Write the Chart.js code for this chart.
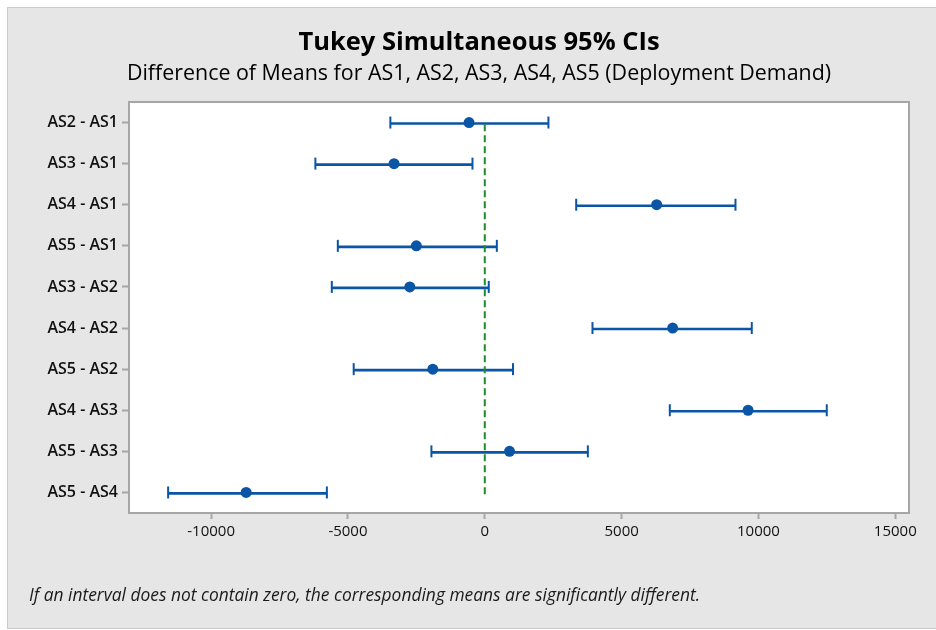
<!DOCTYPE html>
<html>
<head>
<meta charset="utf-8">
<title>Tukey Simultaneous 95% CIs</title>
<script src="https://cdn.jsdelivr.net/npm/chart.js@4.4.1/dist/chart.umd.min.js"></script>
<style>
  html, body { margin: 0; padding: 0; background: #fff; }
  #wrap { width: 936px; height: 630px; }
</style>
</head>
<body>
<div id="wrap"><canvas id="tukeyChart" width="936" height="630"></canvas></div>
<script>
// Pairwise comparisons
const comparisons = [
  "AS2 - AS1", "AS3 - AS1", "AS4 - AS1", "AS5 - AS1", "AS3 - AS2",
  "AS4 - AS2", "AS5 - AS2", "AS4 - AS3", "AS5 - AS3", "AS5 - AS4",
];
const meanDiffs = [-575, -3315, 6280, -2500, -2740, 6865, -1900, 9620, 905, -8720];
const lowerCI = [-3450, -6190, 3340, -5370, -5590, 3935, -4790, 6760, -1950, -11570];
const upperCI = [2325, -450, 9160, 440, 145, 9755, 1030, 12495, 3765, -5770];
const xTicks = [-10000, -5000, 0, 5000, 10000, 15000];

const titleText = "Tukey Simultaneous 95% CIs";
const subtitleText = "Difference of Means for AS1, AS2, AS3, AS4, AS5 (Deployment Demand)";
const footnoteText = "If an interval does not contain zero, the corresponding means are significantly different.";

const BLUE = "#0a55a5";
const GREEN = "#1e8c2a";
const FRAME = "#a6a6a6";
const FONT = "'Open Sans', 'Noto Sans', sans-serif";

// Grey panel, white plot area, plot frame and footnote
const panelPlugin = {
  id: "panel",
  beforeDraw(chart) {
    const ctx = chart.ctx;
    const a = chart.chartArea;
    ctx.save();
    ctx.fillStyle = "#ffffff";
    ctx.fillRect(0, 0, chart.width, chart.height);
    ctx.fillStyle = "#e6e6e6";
    ctx.fillRect(7, 7, chart.width - 7, chart.height - 8);
    ctx.strokeStyle = "#cccccc";
    ctx.lineWidth = 1;
    ctx.strokeRect(7.5, 7.5, chart.width - 7, chart.height - 9);
    ctx.fillStyle = "#ffffff";
    ctx.fillRect(a.left, a.top, a.right - a.left, a.bottom - a.top);
    ctx.restore();
  },
  afterDraw(chart) {
    const ctx = chart.ctx;
    const a = chart.chartArea;
    ctx.save();
    ctx.strokeStyle = FRAME;
    ctx.lineWidth = 2;
    ctx.strokeRect(a.left, a.top, a.right - a.left, a.bottom - a.top);
    ctx.fillStyle = "#1a1a1a";
    ctx.font = "italic 17.4px " + FONT;
    ctx.textBaseline = "middle";
    ctx.textAlign = "left";
    ctx.fillText(footnoteText, 29, 596);
    ctx.restore();
  },
};

const ctx = document.getElementById("tukeyChart").getContext("2d");
new Chart(ctx, {
  type: "bar",
  data: {
    labels: comparisons,
    datasets: [
      {
        // zero reference line
        type: "line",
        yAxisID: "yz",
        data: [{ x: 0, y: 0 }, { x: 0, y: 1 }],
        borderColor: GREEN,
        borderWidth: 2,
        borderDash: [7, 4],
        pointRadius: 0,
        order: 0,
      },
      {
        // means
        type: "scatter",
        data: meanDiffs.map((v, i) => ({ x: v, y: comparisons[i] })),
        pointStyle: "circle",
        pointRadius: 5.5,
        backgroundColor: BLUE,
        borderColor: BLUE,
        borderWidth: 0,
        order: 1,
      },
      {
        // interval caps
        type: "scatter",
        data: lowerCI.map((v, i) => ({ x: v, y: comparisons[i] }))
          .concat(upperCI.map((v, i) => ({ x: v, y: comparisons[i] }))),
        pointStyle: "line",
        rotation: 90,
        pointRadius: 6,
        borderColor: BLUE,
        borderWidth: 2,
        order: 2,
      },
      {
        // interval lines
        data: lowerCI.map((v, i) => [v, upperCI[i]]),
        backgroundColor: BLUE,
        borderWidth: 0,
        barThickness: 2,
        order: 3,
      },
    ],
  },
  options: {
    indexAxis: "y",
    responsive: false,
    animation: false,
    layout: { padding: { top: 27, left: 22, right: 0, bottom: 0 } },
    scales: {
      x: {
        type: "linear",
        min: -13000,
        max: 15500,
        afterBuildTicks: (scale) => {
          scale.ticks = xTicks.map((v) => ({ value: v }));
        },
        afterFit: (scale) => {
          scale.height = 117;
        },
        border: { display: false },
        grid: {
          drawOnChartArea: false,
          drawTicks: true,
          tickLength: 6,
          tickColor: FRAME,
          tickWidth: 2,
        },
        ticks: {
          color: "#111",
          padding: 4,
          font: { family: FONT, size: 15 },
          maxRotation: 0,
          callback: (value) => String(value),
        },
      },
      y: {
        type: "category",
        position: "left",
        offset: true,
        afterFit: (scale) => {
          scale.width = 107;
        },
        border: { display: false },
        grid: {
          offset: false,
          drawOnChartArea: false,
          drawTicks: true,
          tickLength: 7,
          tickColor: FRAME,
          tickWidth: 2,
        },
        ticks: {
          color: "#111",
          padding: 4,
          font: { family: FONT, size: 16, weight: 600 },
        },
      },
      yz: {
        type: "linear",
        position: "right",
        min: 0,
        max: 1,
        afterFit: (scale) => {
          scale.width = 27;
        },
        border: { display: false },
        grid: { display: false },
        ticks: { display: false },
      },
    },
    plugins: {
      legend: { display: false },
      tooltip: { enabled: false },
      title: {
        display: true,
        text: titleText,
        color: "#000",
        font: { family: FONT, size: 25.5, weight: "bold", lineHeight: 1.2 },
        padding: { top: 0, bottom: 2 },
      },
      subtitle: {
        display: true,
        text: subtitleText,
        color: "#000",
        font: { family: FONT, size: 21.4, lineHeight: 1.2 },
        padding: { top: 1.5, bottom: 15.2 },
      },
    },
  },
  plugins: [panelPlugin],
});
</script>
</body>
</html>
